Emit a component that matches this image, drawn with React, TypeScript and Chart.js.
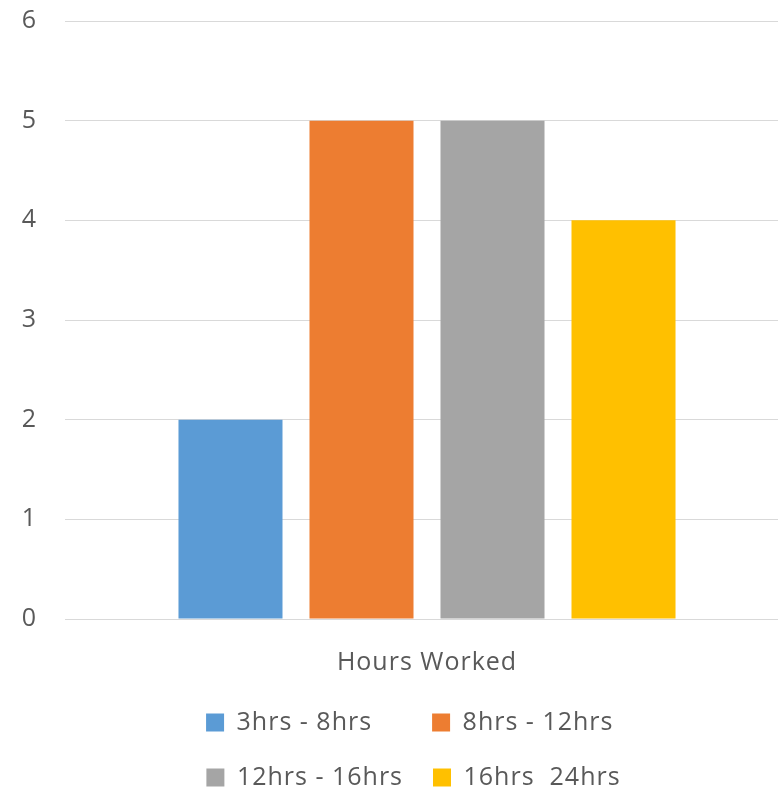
import React, { useEffect, useRef } from "react";
import { Chart, registerables } from "chart.js";

Chart.register(...registerables);

const categories = ["Hours Worked"];
const seriesLabels = ["3hrs - 8hrs", "8hrs - 12hrs", "12hrs - 16hrs", "16hrs  24hrs"];
const seriesValues = [2, 5, 5, 4];
const seriesColors = ["#5B9BD5", "#ED7D31", "#A5A5A5", "#FFC000"];
const yTicks = [0, 1, 2, 3, 4, 5, 6];

const FONT = "'Open Sans', 'Noto Sans', sans-serif";
const FONT_SIZE = 25;
const TEXT = "#595959";

const legendTweak = {
  id: "legendTweak",
  beforeLayout(chart: any) {
    (chart.ctx as any).letterSpacing = "1px";
    const lg = chart.legend;
    if (lg && !lg._wrapPatched) {
      const orig = lg.update.bind(lg);
      lg.update = (mw: number, mh: number, m: any) => orig(Math.min(mw, 500), mh, m);
      lg._wrapPatched = true;
    }
  },
  afterLayout(chart: any) {
    const lg = chart.legend;
    if (lg) {
      lg.left = 38;
      lg.width = lg.right - lg.left;
    }
  },
  beforeDraw(chart: any) {
    (chart.ctx as any).letterSpacing = "1px";
  },
};

export default function App() {
  const ref = useRef<HTMLCanvasElement | null>(null);
  useEffect(() => {
    if (!ref.current) return;
    const chart = new Chart(ref.current, {
      type: "bar",
      data: {
        labels: categories,
        datasets: seriesLabels.map((label, i) => ({
          label,
          data: [seriesValues[i]],
          backgroundColor: seriesColors[i],
          borderWidth: 0,
          categoryPercentage: 0.7238,
          barPercentage: 0.794,
        })),
      },
      options: {
        responsive: false,
        animation: false,
        layout: { padding: { left: 0, right: 65, top: 0, bottom: 0 } },
        plugins: {
          tooltip: { enabled: false },
          legend: {
            position: "bottom",
            labels: {
              boxWidth: 18,
              boxHeight: 18,
              padding: 30,
              color: TEXT,
              font: { family: FONT, size: FONT_SIZE },
              generateLabels(c: any) {
                const items = Chart.defaults.plugins.legend.labels.generateLabels(c);
                const ctx = c.ctx;
                ctx.save();
                ctx.letterSpacing = "1px";
                ctx.font = `${FONT_SIZE}px ${FONT}`;
                // align the two legend rows into columns (pad first row to second row widths)
                for (let i = 0; i < 2 && i + 2 < items.length; i++) {
                  const target = ctx.measureText(items[i + 2].text).width;
                  let t = items[i].text;
                  while (ctx.measureText(t + " ").width <= target + 3) t += " ";
                  items[i].text = t;
                }
                ctx.restore();
                return items;
              },
            },
          },
        },
        scales: {
          x: {
            grid: { display: false, drawTicks: false },
            border: { display: false },
            ticks: { color: TEXT, font: { family: FONT, size: FONT_SIZE }, padding: 29 },
            afterFit(scale: any) {
              scale.height = 61;
            },
          },
          y: {
            min: 0,
            max: 6,
            afterBuildTicks(scale: any) {
              scale.ticks = yTicks.map((v) => ({ value: v }));
            },
            grid: { color: "#D9D9D9", lineWidth: 1, drawTicks: false },
            border: { display: false },
            ticks: { color: TEXT, font: { family: FONT, size: FONT_SIZE }, padding: 28 },
            afterFit(scale: any) {
              scale.width = 65;
              scale.paddingTop = 21;
              scale.paddingBottom = 0;
            },
          },
        },
      },
      plugins: [legendTweak],
    });
    return () => chart.destroy();
  }, []);

  return (
    <div style={{ position: "absolute", left: 0, top: 0, width: 778, height: 792, overflow: "hidden", background: "#fff" }}>
      <canvas ref={ref} width={854} height={800} style={{ width: 854, height: 800, display: "block" }} />
    </div>
  );
}
